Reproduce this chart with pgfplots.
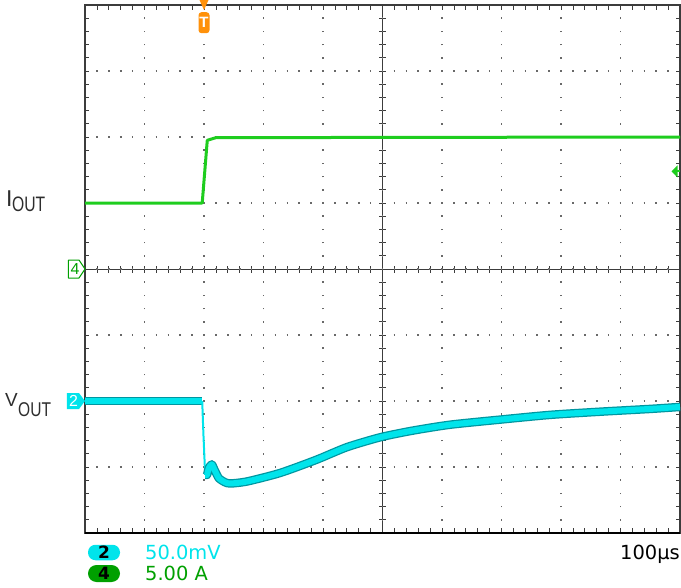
\documentclass[border=0pt]{standalone}
\usepackage{fontspec}
\setmainfont{Liberation Sans}
\newfontfamily\scopefont{DejaVu Sans}
\usepackage{pgfplots}
\usepackage{pgfplotstable}
\pgfplotsset{compat=1.18}

\definecolor{trgreen}{RGB}{30,205,30}
\definecolor{trcyan}{RGB}{0,228,235}
\definecolor{trteal}{RGB}{0,150,160}
\definecolor{trorange}{RGB}{255,145,10}
\definecolor{chgreen}{RGB}{0,160,0}
\definecolor{bordergray}{RGB}{60,60,60}
\definecolor{dotgray}{RGB}{105,105,105}
\definecolor{labelgray}{RGB}{45,45,45}

% all values in screen divisions (x: 0..10, y: -4..4)
\pgfplotstableread{
x y
0 1.0
1.97 1.0
2.055 1.95
2.2 1.99
10 2.0
}\ioutdata

\pgfplotstableread{
x y
0 -2.0
1.97 -2.0
}\vflat

\pgfplotstableread{
x y
1.97 -2.0
1.99 -2.5
2.02 -3.12
}\vdrop

\pgfplotstableread{
x y
2.02 -3.12
2.05 -3.12
2.08 -3.02
2.13 -2.96
2.18 -3.05
2.25 -3.17
2.35 -3.23
2.44 -3.25
2.72 -3.22
3.28 -3.09
3.89 -2.89
4.40 -2.70
4.96 -2.55
5.50 -2.45
6.13 -2.36
7.00 -2.28
7.82 -2.21
8.70 -2.16
9.50 -2.12
10.0 -2.09
}\vrec

\begin{document}
\begin{tikzpicture}
\useasboundingbox (-85bp,-55bp) rectangle (596bp,533bp);

% centre cross with its ticks
\begin{axis}[
    at={(0,0)}, anchor=south west,
    width=595bp, height=528bp, scale only axis,
    xmin=-5, xmax=5, ymin=-4, ymax=4,
    axis lines=middle,
    axis line style={-, draw=bordergray, line width=0.9bp},
    xtick={-5,...,5}, ytick={-4,...,4},
    minor tick num=4,
    tick align=center,
    major tick length=7bp, minor tick length=7bp,
    xticklabels={}, yticklabels={},
    tick style={draw=bordergray, line width=0.7bp},
  ]
  \addplot[draw=none] coordinates {(0,0)};
\end{axis}

\begin{axis}[
    at={(0,0)}, anchor=south west,
    width=595bp, height=528bp, scale only axis,
    xmin=0, xmax=10, ymin=-4, ymax=4,
    xtick={0,...,10}, ytick={-4,...,4},
    minor tick num=4,
    tick align=inside, tick pos=both,
    major tick length=4.5bp, minor tick length=4.5bp,
    xticklabels={}, yticklabels={},
    grid=major,
    x grid style={draw=dotgray, line width=1.6bp, dash pattern=on 1.6bp off 11.6bp, dash phase=0.8bp},
    y grid style={draw=dotgray, line width=1.6bp, dash pattern=on 1.6bp off 10.3bp, dash phase=0.8bp},
    axis line style={draw=bordergray, line width=1.1bp},
    tick style={draw=bordergray, line width=0.8bp},
    clip=false,
  ]
  \addplot[trgreen, line width=3bp, line join=round] table {\ioutdata};

  \addplot[trteal, line width=8.5bp] table {\vflat};
  \addplot[trcyan, line width=6bp] table {\vflat};
  \addplot[trcyan, line width=2bp] table {\vdrop};
  \addplot[trteal, line width=8.5bp, line join=round, smooth, tension=0.4] table {\vrec};
  \addplot[trcyan, line width=6bp, line join=round, smooth, tension=0.4] table {\vrec};

  \draw[black, line width=2.5bp] (rel axis cs:0,0) -- (rel axis cs:1,0);

  % channel 4 marker
  \draw[chgreen, line width=1bp, fill=white, line join=round]
    ([shift={(-16.5bp,9bp)}]axis cs:0,0) -- ++(10.5bp,0bp) -- ++(6bp,-9bp)
    -- ++(-6bp,-9bp) -- ++(-10.5bp,0bp) -- cycle;
  \node[text=chgreen, inner sep=0pt, font=\fontsize{16}{16}\selectfont]
    at ([xshift=-10bp]axis cs:0,0) {4};

  % channel 2 marker
  \fill[trcyan]
    ([shift={(-18bp,8bp)}]axis cs:0,-2) -- ++(12bp,0bp) -- ++(6bp,-8bp)
    -- ++(-6bp,-8bp) -- ++(-12bp,0bp) -- cycle;
  \node[text=white, inner sep=0pt, font=\fontsize{16}{16}\selectfont]
    at ([xshift=-11.5bp]axis cs:0,-2) {2};

  % trigger position marker
  \fill[trorange] ([shift={(-4.5bp,5bp)}]axis cs:2,4) -- ++(9bp,0bp) -- ++(-4.5bp,-10bp) -- cycle;
  \node[fill=trorange, text=white, rounded corners=3bp, inner sep=0pt,
        minimum width=11bp, minimum height=21bp, anchor=north,
        font=\bfseries\fontsize{15}{15}\selectfont]
    at ([yshift=-7bp]axis cs:2,4) {T};

  % trigger level marker
  \fill[trgreen] ([xshift=-8.5bp]axis cs:10,1.48) -- ++(6bp,6bp) -- ++(0bp,-12bp) -- cycle;
  \draw[trgreen, line width=2.2bp] ([xshift=-4bp]axis cs:10,1.48) -- (axis cs:10,1.48);
\end{axis}

% trace labels
\node[anchor=base west, inner sep=0pt, text=labelgray, font=\fontsize{23}{23}\selectfont] at (-79bp,326bp) {I};
\node[anchor=base west, inner sep=0pt, text=labelgray, font=\fontsize{21}{21}\selectfont] at (-73bp,321bp) {\scalebox{0.75}[1]{OUT}};
\node[anchor=base west, inner sep=0pt, text=labelgray, font=\fontsize{19}{19}\selectfont] at (-80bp,126bp) {V};
\node[anchor=base west, inner sep=0pt, text=labelgray, font=\fontsize{20}{20}\selectfont] at (-67bp,116bp) {\scalebox{0.78}[1]{OUT}};

% scale readouts
\node[fill=trcyan, rounded corners=7.5bp, minimum width=32bp, minimum height=15.5bp, inner sep=0pt,
      font=\scopefont\bfseries\fontsize{17}{17}\selectfont] at (19bp,-19.5bp) {2};
\node[fill=chgreen, rounded corners=8.5bp, minimum width=32bp, minimum height=17bp, inner sep=0pt,
      font=\scopefont\bfseries\fontsize{17}{17}\selectfont] at (19bp,-40.5bp) {4};
\node[anchor=base west, inner sep=0pt, text=trcyan, font=\scopefont\fontsize{19.5}{19.5}\selectfont] at (60bp,-26bp) {50.0mV};
\node[anchor=base west, inner sep=0pt, text=chgreen, font=\scopefont\fontsize{19.5}{19.5}\selectfont] at (60bp,-47bp) {5.00 A};
\node[anchor=base east, inner sep=0pt, text=black, font=\scopefont\fontsize{19.5}{19.5}\selectfont] at (595bp,-26bp) {100µs};
\end{tikzpicture}
\end{document}
